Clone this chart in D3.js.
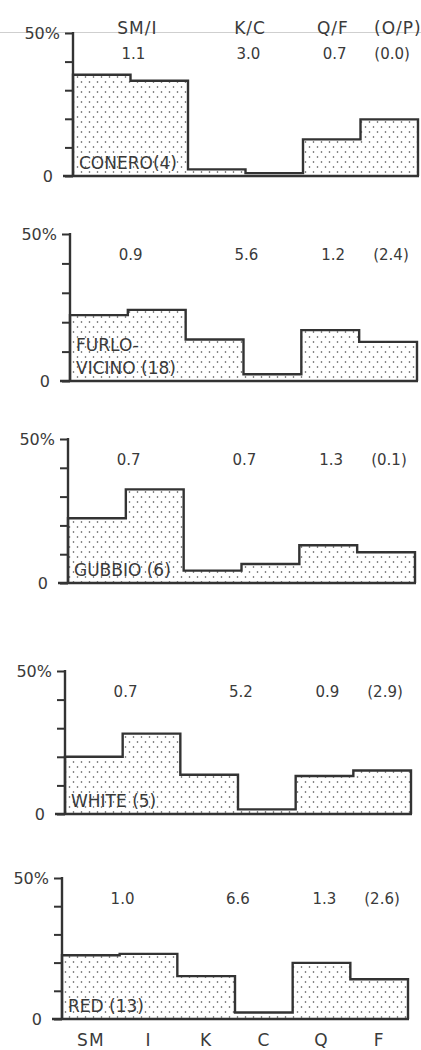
<!DOCTYPE html>
<html><head><meta charset="utf-8">
<script src="https://cdn.jsdelivr.net/npm/d3@7"></script>
<style>
html,body{margin:0;padding:0;background:#fff;}
svg{display:block;}
text{font-family:"DejaVu Sans",sans-serif;fill:#3a3a3a;}
</style></head>
<body>
<svg id="chart" width="421" height="1050"></svg>
<script>
// ---------- data ----------
const categories = ["SM", "I", "K", "C", "Q", "F"];
const ratioHeaders = ["SM/I", "K/C", "Q/F", "(O/P)"];
const siteNames = [["CONERO(4)"], ["FURLO-", "VICINO (18)"], ["GUBBIO (6)"], ["WHITE (5)"], ["RED (13)"]];
const coneroValues = [35.4, 33.3, 2.3, 1.0, 12.8, 19.8];
const furloVicinoValues = [22.4, 24.2, 14.1, 2.3, 17.3, 13.3];
const gubbioValues = [22.5, 32.5, 4.3, 6.6, 13.1, 10.7];
const whiteValues = [20.0, 28.1, 13.7, 1.6, 13.3, 15.2];
const redValues = [22.6, 23.1, 15.2, 2.3, 19.9, 14.1];
const coneroRatios = ["1.1", "3.0", "0.7", "(0.0)"];
const furloVicinoRatios = ["0.9", "5.6", "1.2", "(2.4)"];
const gubbioRatios = ["0.7", "0.7", "1.3", "(0.1)"];
const whiteRatios = ["0.7", "5.2", "0.9", "(2.9)"];
const redRatios = ["1.0", "6.6", "1.3", "(2.6)"];
const yTicks = [0, 10, 20, 30, 40, 50];
const yTickLabels = {0: "0", 50: "50%"};

const panelValues = [coneroValues, furloVicinoValues, gubbioValues, whiteValues, redValues];
const panelRatios = [coneroRatios, furloVicinoRatios, gubbioRatios, whiteRatios, redRatios];

// ---------- layout (scanned panels are slightly offset) ----------
const layouts = [
  {x0: 73, x1: 418, y0: 176, y50: 33},
  {x0: 70, x1: 417, y0: 381, y50: 234},
  {x0: 68, x1: 415, y0: 583, y50: 439},
  {x0: 65, x1: 411, y0: 814, y50: 671},
  {x0: 62, x1: 408, y0: 1019, y50: 878}
];
// ratio label positions expressed in band units along the category axis
const ratioPos = [1.05, 3.05, 4.55, 5.55];
const headerPos = [1.12, 3.08, 4.52, 5.65];

const svg = d3.select("#chart");
const defs = svg.append("defs");
const pat = defs.append("pattern").attr("id", "stipple").attr("patternUnits", "userSpaceOnUse")
  .attr("width", 8).attr("height", 10);
pat.append("circle").attr("cx", 1.5).attr("cy", 2).attr("r", 0.8).attr("fill", "#444");
pat.append("circle").attr("cx", 5.5).attr("cy", 7).attr("r", 0.8).attr("fill", "#444");

// faint scan line at top
svg.append("line").attr("x1", 0).attr("x2", 421).attr("y1", 32.5).attr("y2", 32.5)
  .attr("stroke", "#cfcfcf").attr("stroke-width", 1);

const ink = "#333";

panelValues.forEach((vals, p) => {
  const L = layouts[p];
  const g = svg.append("g");
  const x = d3.scaleBand().domain(categories).range([L.x0, L.x1]).paddingInner(0).paddingOuter(0);
  const xl = d3.scaleLinear().domain([0, categories.length]).range([L.x0, L.x1]);
  const y = d3.scaleLinear().domain([0, 50]).range([L.y0, L.y50]);

  // stepped histogram area
  const pts = [];
  vals.forEach((v, i) => {
    pts.push([x(categories[i]), y(v)]);
    pts.push([x(categories[i]) + x.bandwidth(), y(v)]);
  });
  const area = d3.area().x(d => d[0]).y0(y(0)).y1(d => d[1]);
  g.append("path").datum(pts).attr("d", area).attr("fill", "url(#stipple)");
  const outline = [[x(categories[0]), y(0)], ...pts, [L.x1, y(0)]];
  g.append("path").datum(outline).attr("d", d3.line())
    .attr("fill", "none").attr("stroke", ink).attr("stroke-width", 2.4).attr("stroke-linejoin", "miter");

  // y axis
  const axis = d3.axisLeft(y).tickValues(yTicks).tickSize(8).tickFormat(d => "");
  const ag = g.append("g").attr("transform", `translate(${L.x0},0)`).call(axis);
  ag.select(".domain").remove();
  ag.selectAll(".tick line").attr("stroke", ink).attr("stroke-width", 2);
  g.append("line").attr("x1", L.x0).attr("x2", L.x0).attr("y1", y(50) - 1).attr("y2", y(0))
    .attr("stroke", ink).attr("stroke-width", 2.4);
  // baseline extending to left
  g.append("line").attr("x1", L.x0 - 10).attr("x2", L.x1 + 1).attr("y1", y(0)).attr("y2", y(0))
    .attr("stroke", ink).attr("stroke-width", 2.4);
  yTicks.filter(t => yTickLabels[t] !== undefined).forEach(t => {
    g.append("text").attr("x", t === 0 ? L.x0 - 20 : L.x0 - 13).attr("y", y(t))
      .attr("dy", "0.36em").attr("text-anchor", "end").attr("font-size", 16)
      .text(yTickLabels[t]);
  });

  // ratios
  panelRatios[p].forEach((r, i) => {
    g.append("text").attr("x", xl(ratioPos[i])).attr("y", y(50) + 21).attr("dy", "0.36em")
      .attr("text-anchor", "middle").attr("font-size", 15).text(r);
  });

  // site label
  const lines = siteNames[p];
  lines.forEach((s, i) => {
    g.append("text").attr("x", L.x0 + 6).attr("y", y(0) - 7 - (lines.length - 1 - i) * 23)
      .attr("font-size", 17).text(s);
  });

  if (p === 0) {
    ratioHeaders.forEach((h, i) => {
      svg.append("text").attr("x", xl(headerPos[i])).attr("y", y(50) + 1)
        .attr("text-anchor", "middle").attr("font-size", 17).attr("letter-spacing", 1).text(h);
    });
  }
  if (p === panelValues.length - 1) {
    const bx = d3.axisBottom(x).tickSize(0).tickPadding(15);
    const bg = svg.append("g").attr("transform", `translate(0,${y(0)})`).call(bx);
    bg.select(".domain").remove();
    bg.selectAll("text").attr("font-size", 17).attr("fill", "#3a3a3a").attr("letter-spacing", 1)
      .style("font-family", "'DejaVu Sans',sans-serif");
  }
});
</script>
</body></html>
